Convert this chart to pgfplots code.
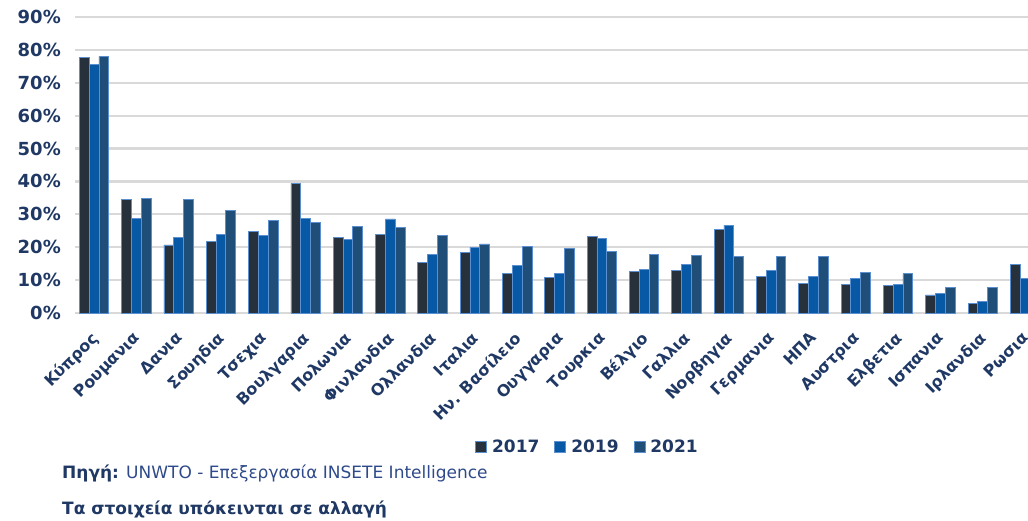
\documentclass[border=0pt]{standalone}
\usepackage{fontspec}
\setmainfont{DejaVu Sans}
\usepackage{pgfplots}
\pgfplotsset{compat=1.18}
\usepackage{pgfplotstable}
\definecolor{navy}{HTML}{1F3864}
\definecolor{cA}{HTML}{26313C}
\definecolor{cB}{HTML}{0759A5}
\definecolor{cC}{HTML}{1F4E79}
\definecolor{edge}{HTML}{5B8FCF}
\definecolor{gridc}{HTML}{D9D9D9}
\definecolor{notec}{HTML}{2F4A8A}

\pgfplotstableread{
x a b c
0 77.8 75.5 78.0
1 34.4 28.8 34.8
2 20.7 23.1 34.5
3 21.8 23.8 31.3
4 24.7 23.5 28.1
5 39.4 28.8 27.4
6 23.0 22.5 26.3
7 24.0 28.6 26.0
8 15.5 17.9 23.5
9 18.3 20.0 21.0
10 12.0 14.4 20.3
11 10.9 11.9 19.6
12 23.3 22.6 18.6
13 12.6 13.3 17.9
14 13.0 14.7 17.5
15 25.5 26.7 17.1
16 11.0 12.9 17.1
17 9.1 11.2 17.1
18 8.7 10.4 12.2
19 8.3 8.6 11.9
20 5.5 6.0 7.9
21 3.0 3.6 7.9
22 14.8 10.4 nan
}\data

\begin{document}
\begin{tikzpicture}[x=1pt,y=1pt]
\useasboundingbox (0,0) rectangle (1028,520);
\begin{axis}[
 at={(75pt,207pt)}, anchor=south west,
 scale only axis, width=953pt, height=296pt,
 xmin=-0.449, xmax=22.07, ymin=0, ymax=90,
 ybar=0pt, bar width=9.8pt,
 axis line style={draw=none},
 major tick length=0pt,
 ymajorgrids, grid style={gridc, line width=2.2pt},
 ytick={0,10,...,90},
 yticklabels={0\%,10\%,20\%,30\%,40\%,50\%,60\%,70\%,80\%,90\%},
 yticklabel style={font=\fontsize{18}{20}\selectfont\bfseries, text=navy, inner sep=0pt, xshift=-14pt},
 xtick={0,...,22},
 xticklabels={Κύπρος,Ρουμανια,Δανια,Σουηδια,Τσεχια,Βουλγαρια,Πολωνια,Φινλανδια,Ολλανδια,Ιταλια,Ην. Βασίλειο,Ουγγαρια,Τουρκια,Βέλγιο,Γαλλια,Νορβηγια,Γερμανια,ΗΠΑ,Αυστρια,Ελβετια,Ισπανια,Ιρλανδια,Ρωσια},
 xticklabel style={xshift=-4pt, yshift=-16pt, font=\fontsize{16}{18}\selectfont\bfseries, text=navy, rotate=45, anchor=north east, inner sep=1pt},
 legend columns=3,
 legend style={draw=none, at={(0.5378,-0.4527)}, anchor=center, font=\fontsize{17}{19}\selectfont\bfseries, text=navy, nodes={inner sep=2pt}, /tikz/every odd column/.append style={column sep=3pt}, /tikz/every even column/.append style={column sep=13pt}},
 legend image code/.code={\fill[#1] (0pt,-5pt) rectangle (11pt,6pt);},
]
\addplot[fill=cA, draw=edge, line width=0.8pt] table[x=x,y=a]{\data};
\addplot[fill=cB, draw=edge, line width=0.8pt] table[x=x,y=b]{\data};
\addplot[fill=cC, draw=edge, line width=0.8pt] table[x=x,y=c]{\data};
\legend{2017,2019,2021}
\end{axis}
\node[anchor=base west, inner sep=0pt, text=navy, font=\fontsize{17}{19}\selectfont] at (62,42) {\textbf{Πηγή:} \textcolor{notec}{UNWTO - Επεξεργασία INSETE Intelligence}};
\node[anchor=base west, inner sep=0pt, text=navy, font=\fontsize{17}{19}\selectfont\bfseries] at (62,6) {Τα στοιχεία υπόκεινται σε αλλαγή};
\end{tikzpicture}
\end{document}
